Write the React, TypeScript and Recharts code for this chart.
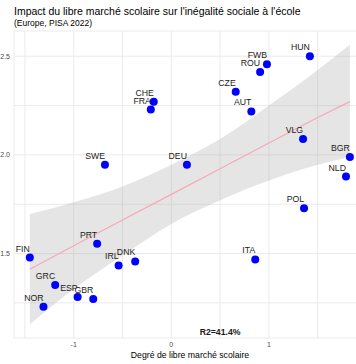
import { ComposedChart, Area, Line, Scatter, XAxis, YAxis, CartesianGrid, ReferenceDot } from 'recharts';

const countries = ['CHE', 'FRA', 'SWE', 'HUN', 'FWB', 'ROU', 'CZE', 'AUT', 'VLG', 'BGR', 'NLD', 'DEU', 'PRT', 'FIN', 'IRL', 'DNK', 'GRC', 'ESP', 'GBR', 'NOR', 'POL', 'ITA'];
const marketDegree = [-0.18, -0.21, -0.68, 1.42, 0.98, 0.91, 0.66, 0.82, 1.35, 1.83, 1.79, 0.16, -0.76, -1.45, -0.54, -0.37, -1.19, -0.96, -0.8, -1.31, 1.36, 0.86];
const socialInequality = [2.27, 2.23, 1.95, 2.5, 2.46, 2.42, 2.32, 2.22, 2.08, 1.99, 1.89, 1.95, 1.55, 1.48, 1.44, 1.46, 1.34, 1.28, 1.27, 1.23, 1.73, 1.47];

// lm fit + 95% band
const bandX = [-1.45, -1, -0.5, 0, 0.5, 1, 1.5, 1.83];
const fitY = [1.42, 1.54, 1.67, 1.8, 1.93, 2.06, 2.19, 2.27];
const bandLow = [1.14, 1.32, 1.49, 1.65, 1.77, 1.87, 1.95, 1.99];
const bandHigh = [1.7, 1.76, 1.84, 1.95, 2.08, 2.25, 2.43, 2.56];

const xTicks = [-1.5, -1, -0.5, 0, 0.5, 1, 1.5];
const yTicks = [1.25, 1.5, 1.75, 2, 2.25, 2.5];
const xLabels: Record<string, string> = { '-1': '-1', '0': '0', '1': '1' };
const yLabels: Record<string, string> = { '1.5': '1.5', '2': '2.0', '2.5': '2.5' };

const FONT = '"Liberation Sans", Arial, sans-serif';

const points = countries.map((c, i) => ({ code: c, x: marketDegree[i], y: socialInequality[i] }));
const band = bandX.map((x, i) => ({ x, fit: fitY[i], band: [bandLow[i], bandHigh[i]] }));

function Dot(props: any) {
  const { cx, cy, payload } = props;
  return (
    <g>
      <circle cx={cx} cy={cy} r={4} fill="#0000FF" />
      <text x={cx} y={cy - 6} textAnchor="end" fontSize={8.7} fontFamily={FONT} fill="#1a1a1a">
        {payload.code}
      </text>
    </g>
  );
}

export default function App() {
  return (
    <div style={{ position: 'absolute', left: 0, top: 0, width: 356, height: 364, overflow: 'hidden', background: '#fff' }}>
      <ComposedChart width={366} height={364} data={band} margin={{ top: 31, right: 0, left: 0, bottom: 0 }}>
        <CartesianGrid stroke="#EBEBEB" strokeWidth={1} />
        <XAxis
          type="number"
          dataKey="x"
          domain={[-1.612, 1.995]}
          allowDataOverflow
          ticks={xTicks}
          tickFormatter={(v) => xLabels[String(v)] ?? ''}
          tickLine={false}
          axisLine={false}
          tickSize={0}
          tickMargin={4}
          height={26}
          tick={{ fontSize: 7, fill: '#4D4D4D', fontFamily: FONT }}
        />
        <YAxis
          type="number"
          dataKey="y"
          domain={[1.072, 2.628]}
          allowDataOverflow
          ticks={yTicks}
          tickFormatter={(v) => yLabels[String(v)] ?? ''}
          tickLine={false}
          axisLine={false}
          tickSize={0}
          tickMargin={4}
          width={14}
          tick={{ fontSize: 7, fill: '#4D4D4D', fontFamily: FONT }}
        />
        <Area dataKey="band" type="monotone" stroke="none" fill="#999999" fillOpacity={0.25} isAnimationActive={false} />
        <Line dataKey="fit" type="linear" stroke="#F7A8B8" strokeWidth={1.2} dot={false} isAnimationActive={false} />
        <Scatter data={points} shape={Dot} isAnimationActive={false} />
        <ReferenceDot
          x={0.5}
          y={1.1}
          r={0}
          shape={(p: any) => (
            <text x={p.cx} y={p.cy + 3} textAnchor="middle" fontSize={8.7} fontWeight="bold" fontFamily={FONT} fill="#1a1a1a">
              R2=41.4%
            </text>
          )}
        />
      </ComposedChart>
      <svg width={356} height={364} style={{ position: 'absolute', left: 0, top: 0, pointerEvents: 'none' }}>
        <text x={14} y={14.5} fontSize={10.5} fontFamily={FONT} fill="#000">
          Impact du libre marché scolaire sur l'inégalité sociale à l'école
        </text>
        <text x={14} y={25.5} fontSize={8.5} fontFamily={FONT} fill="#000">
          (Europe, PISA 2022)
        </text>
        <text x={190} y={357.5} textAnchor="middle" fontSize={8.7} fontFamily={FONT} fill="#000">
          Degré de libre marché scolaire
        </text>
      </svg>
    </div>
  );
}
